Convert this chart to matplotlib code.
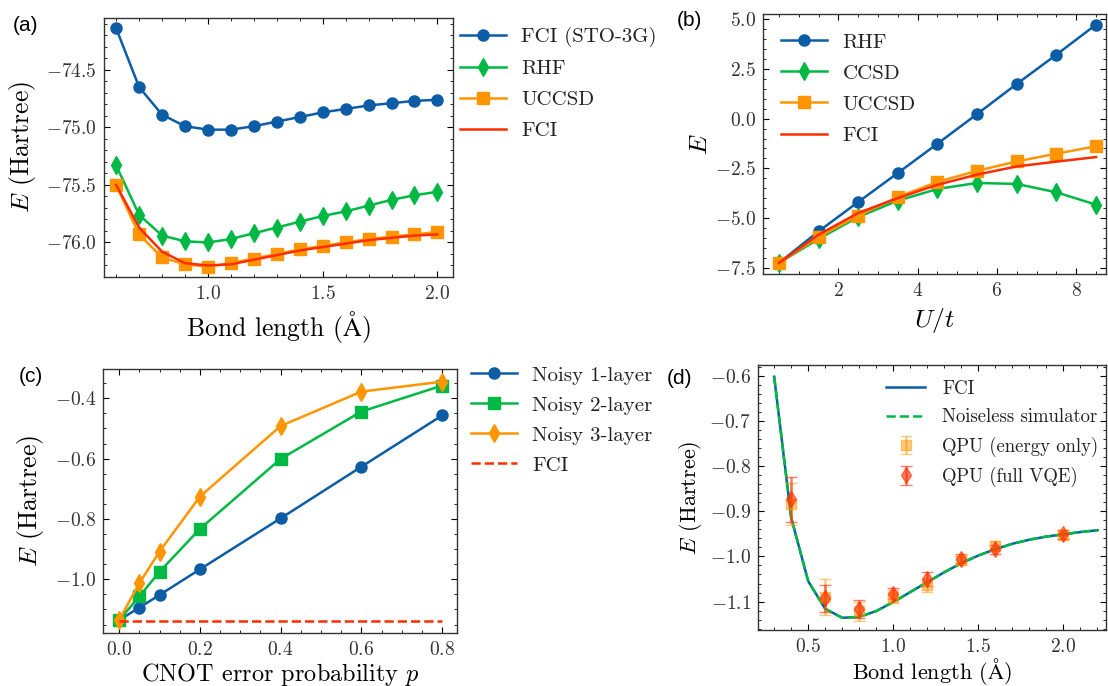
import matplotlib
matplotlib.use('Agg')
import matplotlib.pyplot as plt

# ---- data ----
# (a) water-like dissociation curve
bond_a = [0.6, 0.7, 0.8, 0.9, 1.0, 1.1, 1.2, 1.3, 1.4, 1.5, 1.6, 1.7, 1.8, 1.9, 2.0]
fci_sto3g = [-74.14, -74.65, -74.89, -74.99, -75.02, -75.02, -74.99, -74.95,
             -74.91, -74.87, -74.84, -74.81, -74.79, -74.77, -74.76]
rhf_a = [-75.33, -75.76, -75.94, -75.99, -76.00, -75.97, -75.92, -75.87,
         -75.82, -75.77, -75.73, -75.68, -75.63, -75.59, -75.56]
uccsd_a = [-75.50, -75.93, -76.13, -76.19, -76.21, -76.18, -76.14, -76.10,
           -76.06, -76.03, -76.00, -75.97, -75.95, -75.93, -75.91]
fci_a = [-75.50, -75.87, -76.08, -76.18, -76.20, -76.19, -76.15, -76.11,
         -76.07, -76.04, -76.01, -75.98, -75.96, -75.94, -75.93]

# (b) Hubbard model
u_t = [0.5, 1.5, 2.5, 3.5, 4.5, 5.5, 6.5, 7.5, 8.5]
rhf_b = [-7.25, -5.66, -4.19, -2.73, -1.26, 0.23, 1.74, 3.21, 4.72]
ccsd_b = [-7.25, -6.04, -4.94, -4.12, -3.53, -3.23, -3.28, -3.70, -4.32]
uccsd_b = [-7.25, -5.94, -4.87, -3.94, -3.18, -2.62, -2.15, -1.76, -1.39]
fci_b = [-7.25, -5.83, -4.74, -3.99, -3.32, -2.81, -2.40, -2.16, -1.93]

# (c) noisy simulation
p_err = [0.0, 0.05, 0.1, 0.2, 0.4, 0.6, 0.8]
noisy1 = [-1.135, -1.094, -1.052, -0.967, -0.798, -0.627, -0.457]
noisy2 = [-1.135, -1.057, -0.975, -0.833, -0.601, -0.444, -0.358]
noisy3 = [-1.135, -1.013, -0.908, -0.726, -0.492, -0.378, -0.345]
fci_c = -1.137

# (d) H2 on QPU
bond_d = [0.3, 0.4, 0.5, 0.6, 0.7, 0.8, 0.9, 1.0, 1.1, 1.2, 1.3, 1.4,
          1.5, 1.6, 1.7, 1.8, 1.9, 2.0, 2.1, 2.2]
fci_d = [-0.602, -0.914, -1.055, -1.116, -1.136, -1.134, -1.121, -1.101,
         -1.079, -1.057, -1.035, -1.015, -0.998, -0.984, -0.972, -0.963,
         -0.956, -0.951, -0.946, -0.942]
sim_d = fci_d
bond_qpu = [0.4, 0.6, 0.8, 1.0, 1.2, 1.4, 1.6, 2.0]
qpu_energy = [-0.884, -1.089, -1.122, -1.089, -1.063, -1.008, -0.977, -0.952]
qpu_energy_err = [0.046, 0.040, 0.020, 0.015, 0.015, 0.010, 0.012, 0.010]
qpu_vqe = [-0.873, -1.093, -1.117, -1.083, -1.050, -1.005, -0.984, -0.951]
qpu_vqe_err = [0.050, 0.030, 0.020, 0.012, 0.015, 0.010, 0.010, 0.010]

BLUE, GREEN, ORANGE, RED = '#0C5DA5', '#00B945', '#FF9500', '#FF2C00'

plt.rcParams.update({
    'font.family': ['cmr10', 'DejaVu Serif'],
    'mathtext.fontset': 'cm',
    'axes.formatter.use_mathtext': True,
    'axes.unicode_minus': True,
    'axes.linewidth': 1.0,
    'axes.edgecolor': '#333333',
    'xtick.direction': 'in', 'ytick.direction': 'in',
    'xtick.top': True, 'ytick.right': True,
    'xtick.minor.visible': True, 'ytick.minor.visible': True,
    'xtick.major.size': 4.5, 'ytick.major.size': 4.5,
    'xtick.minor.size': 2.5, 'ytick.minor.size': 2.5,
    'xtick.major.width': 0.8, 'ytick.major.width': 0.8,
    'xtick.minor.width': 0.6, 'ytick.minor.width': 0.6,
    'xtick.major.pad': 6, 'ytick.major.pad': 5,
    'xtick.labelsize': 14, 'ytick.labelsize': 14,
    'text.color': '#222222', 'xtick.labelcolor': '#333333', 'ytick.labelcolor': '#333333',
    'lines.linewidth': 1.8, 'lines.markersize': 8,
})

W, H = 1108, 686
fig = plt.figure(figsize=(W / 100, H / 100), dpi=100)

BOND_LABEL = 'Bond length ($\\mathrm{\\AA}$)'


def px_axes(left, top, right, bottom):
    return fig.add_axes([left / W, 1 - bottom / H, (right - left) / W, (bottom - top) / H])


def px_legend(ax, x, y, size, **kw):
    return ax.legend(loc='upper left', bbox_to_anchor=(x / W, 1 - y / H),
                     bbox_transform=fig.transFigure, frameon=False, borderaxespad=0,
                     borderpad=0, fontsize=size, **kw)


def panel_label(x, y, s):
    fig.text(x / W, 1 - y / H, s, family='Liberation Sans', fontsize=15,
             color='black', va='top', ha='left')


# (a)
ax = px_axes(104, 18, 453, 277)
ax.plot(bond_a, fci_sto3g, '-o', color=BLUE, label='FCI (STO-3G)')
ax.plot(bond_a, rhf_a, '-d', color=GREEN, markersize=9, label='RHF')
ax.plot(bond_a, uccsd_a, '-s', color=ORANGE, label='UCCSD', zorder=2)
ax.plot(bond_a, fci_a, '-', color=RED, label='FCI', zorder=3)
ax.set_xlim(0.547, 2.068)
ax.set_ylim(-76.30, -74.05)
ax.set_xticks([1.0, 1.5, 2.0])
ax.set_yticks([-76.0, -75.5, -75.0, -74.5])
ax.set_xlabel(BOND_LABEL, fontsize=18.5, labelpad=4)
ax.set_ylabel('$E$ (Hartree)', fontsize=18.5, labelpad=6)
px_legend(ax, 460, 27, 15, handlelength=2.2, handletextpad=0.75, labelspacing=0.6)
panel_label(13, 16, '(a)')

# (b)
ax = px_axes(763, 14, 1106, 274)
ax.plot(u_t, rhf_b, '-o', color=BLUE, label='RHF')
ax.plot(u_t, ccsd_b, '-d', color=GREEN, markersize=9, label='CCSD')
ax.plot(u_t, uccsd_b, '-s', color=ORANGE, label='UCCSD')
ax.plot(u_t, fci_b, '-', color=RED, label='FCI')
ax.set_xlim(0.1, 8.75)
ax.set_ylim(-7.8, 5.25)
ax.set_xticks([2, 4, 6, 8])
ax.set_yticks([-7.5, -5.0, -2.5, 0.0, 2.5, 5.0])
ax.set_xlabel('$U/t$', fontsize=18.5, labelpad=4)
ax.set_ylabel('$E$', fontsize=18.5, labelpad=2)
px_legend(ax, 781, 33, 15, handlelength=2.2, handletextpad=0.75, labelspacing=0.6)
panel_label(677, 11, '(b)')

# (c)
ax = px_axes(103, 369, 457, 633)
ax.plot(p_err, noisy1, '-o', color=BLUE, label='Noisy 1-layer')
ax.plot(p_err, noisy2, '-s', color=GREEN, label='Noisy 2-layer')
ax.plot(p_err, noisy3, '-d', color=ORANGE, markersize=9, label='Noisy 3-layer')
ax.plot([p_err[0], p_err[-1]], [fci_c, fci_c], '--', color=RED, label='FCI')
ax.set_xlim(-0.04, 0.837)
ax.set_ylim(-1.178, -0.303)
ax.set_xticks([0.0, 0.2, 0.4, 0.6, 0.8])
ax.set_yticks([-1.0, -0.8, -0.6, -0.4])
ax.set_xlabel('CNOT error probability $p$', fontsize=17.5, labelpad=1)
ax.set_ylabel('$E$ (Hartree)', fontsize=18.5, labelpad=6)
px_legend(ax, 471, 366, 15, handlelength=2.2, handletextpad=0.75, labelspacing=0.55)
panel_label(19, 367, '(c)')

# (d)
ax = px_axes(758, 365, 1106, 630)
ax.plot(bond_d, fci_d, '-', color=BLUE, label='FCI')
ax.plot(bond_d, sim_d, '--', color=GREEN, label='Noiseless simulator')
ax.errorbar(bond_qpu, qpu_energy, yerr=qpu_energy_err, fmt='s', color=ORANGE,
            alpha=0.5, capsize=4, markersize=7, label='QPU (energy only)')
ax.errorbar(bond_qpu, qpu_vqe, yerr=qpu_vqe_err, fmt='d', color=RED,
            alpha=0.6, capsize=4, markersize=8, label='QPU (full VQE)')
ax.set_xlim(0.205, 2.25)
ax.set_ylim(-1.163, -0.576)
ax.set_xticks([0.5, 1.0, 1.5, 2.0])
ax.set_yticks([-1.1, -1.0, -0.9, -0.8, -0.7, -0.6])
ax.set_xlabel(BOND_LABEL, fontsize=16, labelpad=0)
ax.set_ylabel('$E$ (Hartree)', fontsize=16, labelpad=4)
px_legend(ax, 886, 380, 13.5, handlelength=2.1, handletextpad=0.9, labelspacing=0.55)
panel_label(667, 369, '(d)')

fig.savefig('out.png', dpi=100)
